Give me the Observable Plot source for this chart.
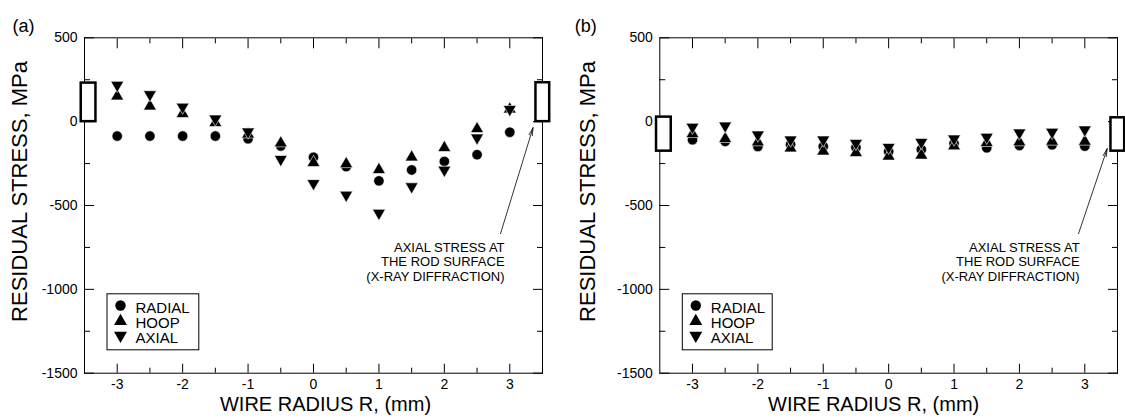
<!DOCTYPE html>
<html>
<head>
<meta charset="utf-8">
<script src="https://cdn.jsdelivr.net/npm/d3@7"></script>
<script src="https://cdn.jsdelivr.net/npm/@observablehq/plot@0.6"></script>
<style>
  html, body { margin: 0; padding: 0; background: white; }
  #wrap { position: relative; width: 1125px; height: 420px; overflow: hidden; }
  #pa, #pb { position: absolute; top: 0; }
  #pa { left: 0; width: 562px; }
  #pb { left: 562px; width: 563px; }
  svg { overflow: visible; }
</style>
</head>
<body>
<div id="wrap"><div id="pa"></div><div id="pb"></div></div>
<script>
// ---- data (MPa) ----
const radius = [-3, -2.5, -2, -1.5, -1, -0.5, 0, 0.5, 1, 1.5, 2, 2.5, 3];

// panel (a)
const radialA = [-86, -86, -86, -86, -102, -145, -212, -268, -353, -288, -237, -197, -63];
const hoopA   = [152, 92, 47, -7, -75, -128, -245, -252, -287, -212, -156, -43, 74];
const axialA  = [218, 162, 88, 17, -60, -224, -368, -437, -545, -387, -288, -96, 74];

// panel (b)
const radialB = [-108, -118, -148, -136, -148, -154, -178, -166, -130, -156, -142, -138, -146];
const hoopB   = [-73, -102, -122, -158, -177, -186, -207, -201, -146, -126, -122, -118, -118];
const axialB  = [-32, -25, -78, -108, -108, -128, -152, -122, -102, -92, -66, -62, -48];

// X-ray surface axial stress ranges (left and right surface)
const xraySide = ["left", "right"];
const xrayLowA  = [0, 0];
const xrayHighA = [230, 232];
const xrayLowB  = [-176, -176];
const xrayHighB = [27, 23];

const xMajor = [-3, -2, -1, 0, 1, 2, 3];
const xMinor = [-2.5, -1.5, -0.5, 0.5, 1.5, 2.5];
const yMajor = [-1500, -1000, -500, 0, 500];
const yMinor = [-1250, -750, -250, 250];
const legendLabels = ["RADIAL", "HOOP", "AXIAL"];
const annotation = ["AXIAL STRESS AT", "THE ROD SURFACE", "(X-RAY DIFFRACTION)"];

// downward triangle symbol
const triangleDown = {
  draw(context, size) {
    const y = -Math.sqrt(size / (Math.sqrt(3) * 3));
    context.moveTo(0, -y * 2);
    context.lineTo(-Math.sqrt(3) * y, y);
    context.lineTo(Math.sqrt(3) * y, y);
    context.closePath();
  }
};

const FONT = "'Liberation Sans', Arial, Helvetica, sans-serif";

function panel(cfg) {
  const rows = radius.map((r, i) => ({r, radial: cfg.radial[i], hoop: cfg.hoop[i], axial: cfg.axial[i]}));
  const xray = xraySide.map((s, i) => ({side: s, lo: cfg.lo[i], hi: cfg.hi[i]}));
  const dotStyle = {fill: "black", stroke: "white", strokeWidth: 0.6};
  return Plot.plot({
    width: cfg.width,
    height: 420,
    marginLeft: cfg.marginLeft,
    marginRight: cfg.marginRight,
    marginTop: 37.3,
    marginBottom: 47.3,
    style: {fontFamily: FONT, fontSize: "14px", color: "black", background: "white", overflow: "visible"},
    x: {domain: [-3.5, 3.5]},
    y: {domain: [-1500, 500]},
    marks: [
      Plot.frame({stroke: "black", strokeWidth: 1}),
      // ticks (inward) on all four sides
      Plot.axisX({anchor: "bottom", ticks: xMajor, tickSize: -9, fill: "none", label: null}),
      Plot.axisX({anchor: "bottom", ticks: xMinor, tickSize: -5, fill: "none", label: null}),
      Plot.axisX({anchor: "top", ticks: xMajor, tickSize: -10, fill: "none", label: null}),
      Plot.axisX({anchor: "top", ticks: xMinor, tickSize: -5, fill: "none", label: null}),
      Plot.axisY({anchor: "left", ticks: yMajor, tickSize: -10, fill: "none", label: null}),
      Plot.axisY({anchor: "left", ticks: yMinor, tickSize: -6, fill: "none", label: null}),
      Plot.axisY({anchor: "right", ticks: yMajor, tickSize: -10, fill: "none", label: null}),
      Plot.axisY({anchor: "right", ticks: yMinor, tickSize: -6, fill: "none", label: null}),
      // tick labels
      Plot.axisX({anchor: "bottom", ticks: xMajor, tickSize: 0, tickPadding: 6, tickFormat: d => `${d}`, label: null}),
      Plot.axisY({anchor: "left", ticks: yMajor, tickSize: 0, tickPadding: 7, tickFormat: d => `${d}`, label: null}),
      // axis titles
      Plot.text(["WIRE RADIUS R, (mm)"], {frameAnchor: "bottom", dx: cfg.xTitleDx, dy: 37.5, fontSize: 20, textAnchor: "middle"}),
      Plot.text(["RESIDUAL STRESS, MPa"], {frameAnchor: "left", dx: cfg.yTitleDx, dy: -14, rotate: -90, fontSize: 22, textAnchor: "middle"}),
      Plot.text([cfg.tag], {frameAnchor: "top-left", dx: cfg.tagDx, dy: -19, fontSize: 18, textAnchor: "start"}),
      // X-ray rectangles
      Plot.rect(xray, {
        x1: d => d.side === "left" ? -3.55 : 3.40,
        x2: d => d.side === "left" ? -3.325 : 3.61,
        y1: "lo", y2: "hi",
        fill: "white", stroke: "black", strokeWidth: 2.5
      }),
      // data
      Plot.dot(rows, {x: "r", y: "radial", symbol: "circle", r: 5.2, ...dotStyle}),
      Plot.dot(rows, {x: "r", y: "hoop", symbol: "triangle", r: 4.8, ...dotStyle}),
      Plot.dot(rows, {x: "r", y: "axial", symbol: triangleDown, r: 4.8, ...dotStyle}),
      // annotation
      Plot.arrow([0], {x1: cfg.arrow[0], y1: cfg.arrow[1], x2: cfg.arrow[2], y2: cfg.arrow[3], stroke: "black", strokeWidth: 0.8, headLength: 15, headAngle: 24}),
      Plot.text([annotation.join("\n")], {x: 2.92, y: -713, textAnchor: "end", lineAnchor: "top", fontSize: 13, lineHeight: 1.12}),
      // legend
      Plot.frame({insetLeft: 22.5, insetRight: cfg.legendInsetRight, insetTop: 256, insetBottom: 23.4, fill: "white", stroke: "black", strokeWidth: 1}),
      Plot.dot([0], {frameAnchor: "top-left", dx: 36, dy: 267.7, symbol: "circle", r: 5.2, fill: "black"}),
      Plot.dot([0], {frameAnchor: "top-left", dx: 36, dy: 283.4, symbol: "triangle", r: 4.8, fill: "black"}),
      Plot.dot([0], {frameAnchor: "top-left", dx: 36, dy: 297.7, symbol: triangleDown, r: 4.8, fill: "black"}),
      Plot.text([legendLabels.join("\n")], {frameAnchor: "top-left", dx: 51, dy: 264.7, textAnchor: "start", lineAnchor: "top", fontSize: 15, lineHeight: 1.0})
    ]
  });
}

document.getElementById("pa").append(panel({
  width: 562, marginLeft: 84, marginRight: 20,
  radial: radialA, hoop: hoopA, axial: axialA, lo: xrayLowA, hi: xrayHighA,
  xTitleDx: 12, yTitleDx: -65, tag: "(a)", tagDx: -72,
  arrow: [2.858, -668, 3.355, -36], legendInsetRight: 343.7
}));
document.getElementById("pb").append(panel({
  width: 563, marginLeft: 97.3, marginRight: 8,
  radial: radialB, hoop: hoopB, axial: axialB, lo: xrayLowB, hi: xrayHighB,
  xTitleDx: -15, yTitleDx: -72, tag: "(b)", tagDx: -85,
  arrow: [2.904, -668, 3.342, -161.5], legendInsetRight: 345.3
}));
</script>
</body>
</html>
